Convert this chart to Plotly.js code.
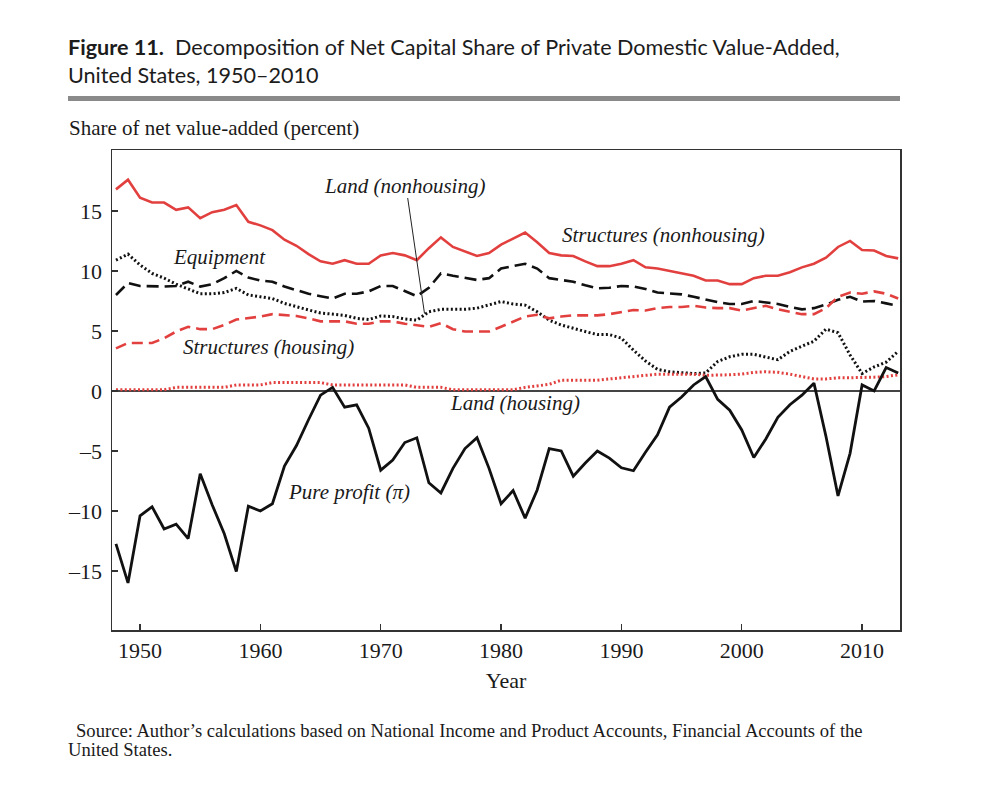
<!DOCTYPE html>
<html>
<head>
<meta charset="utf-8">
<script src="https://cdn.plot.ly/plotly-3.0.1.min.js"></script>
<style>html,body{margin:0;padding:0;background:#fff;}#chart{width:1008px;height:808px;}</style>
</head>
<body>
<div id="chart"></div>
<script>
const years = [];
for (let y = 1948; y <= 2013; y++) years.push(y);

const structuresNonhousing = [16.8,17.6,16.1,15.7,15.7,15.1,15.3,14.4,14.9,15.1,15.5,14.1,13.8,13.4,12.6,12.1,11.4,10.8,10.6,10.9,10.6,10.6,11.3,11.5,11.3,10.9,11.9,12.8,12.0,11.6,11.25,11.5,12.2,12.7,13.2,12.4,11.5,11.3,11.25,10.8,10.4,10.4,10.6,10.9,10.3,10.2,10.0,9.8,9.6,9.2,9.2,8.9,8.9,9.4,9.6,9.6,9.9,10.3,10.6,11.1,12.0,12.5,11.75,11.7,11.25,11.05];
const equipment = [8.0,9.0,8.75,8.7,8.7,8.75,9.1,8.7,8.9,9.4,10.0,9.45,9.2,9.1,8.7,8.4,8.1,7.9,7.7,8.1,8.1,8.3,8.75,8.75,8.3,7.9,8.6,9.8,9.6,9.4,9.25,9.4,10.2,10.4,10.6,10.2,9.4,9.25,9.1,8.8,8.55,8.6,8.75,8.7,8.5,8.2,8.1,8.05,7.85,7.6,7.4,7.25,7.25,7.5,7.4,7.25,7.0,6.8,6.9,7.2,7.6,7.85,7.45,7.5,7.3,7.1];
const landNonhousing = [10.9,11.4,10.5,9.8,9.4,8.9,8.5,8.1,8.1,8.2,8.55,8.0,7.85,7.7,7.3,7.0,6.75,6.5,6.4,6.3,6.05,5.95,6.25,6.2,6.0,5.9,6.6,6.8,6.8,6.8,6.9,7.15,7.45,7.25,7.15,6.6,5.9,5.5,5.2,4.95,4.7,4.7,4.4,3.4,2.5,1.8,1.6,1.5,1.45,1.5,2.45,2.85,3.05,3.05,2.8,2.6,3.3,3.7,4.15,5.15,4.85,3.0,1.45,2.0,2.4,3.3];
const structuresHousing = [3.55,4.0,4.0,4.0,4.4,4.95,5.35,5.15,5.15,5.5,5.95,6.05,6.2,6.4,6.3,6.25,6.05,5.8,5.8,5.8,5.6,5.6,5.8,5.8,5.6,5.45,5.35,5.65,5.15,4.95,4.95,4.95,5.35,5.8,6.2,6.35,6.05,6.2,6.3,6.3,6.3,6.4,6.6,6.75,6.7,6.9,7.0,7.0,7.1,6.95,6.9,6.9,6.7,6.9,7.1,6.8,6.6,6.4,6.4,6.9,7.85,8.2,8.1,8.3,8.1,7.7];
const landHousing = [0.1,0.1,0.1,0.1,0.1,0.3,0.3,0.3,0.3,0.3,0.5,0.5,0.5,0.7,0.7,0.7,0.7,0.7,0.5,0.5,0.5,0.5,0.5,0.5,0.5,0.3,0.3,0.3,0.1,0.1,0.1,0.1,0.1,0.1,0.3,0.45,0.55,0.9,0.9,0.9,0.9,1.0,1.1,1.2,1.3,1.4,1.4,1.4,1.4,1.3,1.3,1.35,1.4,1.55,1.6,1.55,1.4,1.2,1.0,1.0,1.1,1.1,1.1,1.15,1.2,1.35];
const pureProfit = [-12.75,-16.0,-10.4,-9.65,-11.5,-11.1,-12.3,-6.9,-9.5,-11.9,-15.05,-9.6,-10.0,-9.4,-6.25,-4.55,-2.4,-0.35,0.3,-1.35,-1.15,-3.1,-6.6,-5.75,-4.3,-3.9,-7.65,-8.5,-6.45,-4.8,-3.9,-6.45,-9.4,-8.3,-10.6,-8.25,-4.8,-5.0,-7.1,-6.0,-5.0,-5.6,-6.4,-6.65,-5.1,-3.65,-1.35,-0.5,0.5,1.2,-0.7,-1.6,-3.25,-5.55,-4.0,-2.2,-1.15,-0.35,0.65,-3.8,-8.75,-5.2,0.5,0.0,1.95,1.5];

const xTickVals = [1950,1960,1970,1980,1990,2000,2010];
const yTickVals = [-15,-10,-5,0,5,10,15];
const yTickText = ["\u201315","\u201310","\u20135","0","5","10","15"];

const RED = '#e2403f';
const BLK = '#111111';
const SERIF = '"Liberation Serif", "Times New Roman", serif';
const SANS = 'Lato, "Open Sans", sans-serif';

// pixel -> paper helpers (plot area 112..900 x 150..630)
const L = 112, R = 900, T = 150, B = 630;
const px = v => (v - L) / (R - L);
const py = v => (B - v) / (B - T);

const traces = [
  {x: years, y: structuresNonhousing, mode: 'lines', line: {color: RED, width: 2.6}},
  {x: years, y: equipment, mode: 'lines', line: {color: BLK, width: 2.6, dash: '12px,6px'}},
  {x: years, y: landNonhousing, mode: 'lines', line: {color: BLK, width: 3, dash: '2px,2.4px'}},
  {x: years, y: structuresHousing, mode: 'lines', line: {color: RED, width: 2.6, dash: '11px,6px'}},
  {x: years, y: landHousing, mode: 'lines', line: {color: RED, width: 3, dash: '2px,2.4px'}},
  {x: years, y: pureProfit, mode: 'lines', line: {color: BLK, width: 2.8}}
];

function lab(text, cx, cy) {
  return {text: text, xref: 'paper', yref: 'paper', x: px(cx), y: py(cy), xanchor: 'center', yanchor: 'middle',
          showarrow: false, font: {family: SERIF, size: 21, color: '#1a1a1a', style: 'italic'}};
}

const annotations = [
  lab('Land (nonhousing)', 404, 186),
  lab('Structures (nonhousing)', 663, 235),
  lab('Equipment', 219, 257),
  lab('Structures (housing)', 268, 347),
  lab('Land (housing)', 515, 403),
  lab('Pure profit (\u03c0)', 349, 492),
  {text: 'Share of net value-added (percent)', xref: 'paper', yref: 'paper', x: px(67), y: py(128),
   xanchor: 'left', yanchor: 'middle', showarrow: false, font: {family: SERIF, size: 21, color: '#1a1a1a'}},
  {text: 'Source: Author\u2019s calculations based on National Income and Product Accounts, Financial Accounts of the', xref: 'paper', yref: 'paper', x: px(74), y: py(730),
   xanchor: 'left', yanchor: 'middle', showarrow: false, font: {family: SERIF, size: 18.6, color: '#1a1a1a'}},
  {text: 'United States.', xref: 'paper', yref: 'paper', x: px(66), y: py(749),
   xanchor: 'left', yanchor: 'middle', showarrow: false, font: {family: SERIF, size: 18.6, color: '#1a1a1a'}}
];

const shapes = [
  {type: 'line', xref: 'paper', yref: 'paper', x0: px(68), x1: px(900), y0: py(98.5), y1: py(98.5),
   line: {color: '#8a8a8a', width: 5}},
  {type: 'line', xref: 'paper', yref: 'paper', x0: px(407.7), y0: py(198), x1: px(424.5), y1: py(313.5),
   line: {color: '#222', width: 1}}
];

const layout = {
  width: 1008, height: 808,
  margin: {l: L, r: 1008 - R, t: T, b: 808 - B},
  paper_bgcolor: '#fff', plot_bgcolor: '#fff',
  showlegend: false,
  title: {text: '<b>Figure 11.</b>  Decomposition of Net Capital Share of Private Domestic Value-Added,<br>United States, 1950\u20132010',
          xref: 'container', yref: 'container', x: 68/1008, xanchor: 'left', y: 1 - 55/808, yanchor: 'top',
          font: {family: SANS, size: 21.6, color: '#1c1c1c'}},
  xaxis: {range: [1947.67, 2013.15], tickvals: xTickVals, ticks: 'inside', ticklen: 6, tickwidth: 1.2, tickcolor: '#333',
          showline: true, linecolor: '#333', linewidth: 1.5, mirror: true, showgrid: false, zeroline: false,
          tickfont: {family: SERIF, size: 22, color: '#1a1a1a'},
          title: {text: 'Year', font: {family: SERIF, size: 22, color: '#1a1a1a'}, standoff: 10}},
  yaxis: {range: [-19.92, 20.08], tickvals: yTickVals, ticktext: yTickText, ticks: 'inside', ticklen: 6, tickwidth: 1.2, tickcolor: '#333',
          showline: true, linecolor: '#333', linewidth: 1.5, mirror: true, showgrid: false,
          zeroline: true, zerolinecolor: '#444', zerolinewidth: 1.5,
          tickfont: {family: SERIF, size: 22, color: '#1a1a1a'}, ticklabelstandoff: 4},
  annotations: annotations,
  shapes: shapes
};

Plotly.newPlot('chart', traces, layout, {displayModeBar: false, staticPlot: true});
</script>
</body>
</html>
